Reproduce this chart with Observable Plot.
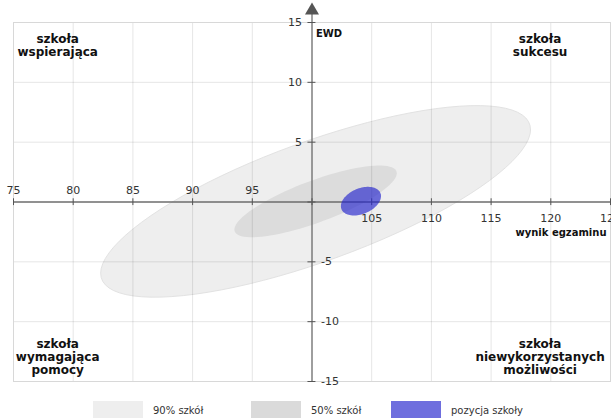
<!DOCTYPE html>
<html>
<head>
<meta charset="utf-8">
<script src="https://cdn.jsdelivr.net/npm/d3@7"></script>
<script src="https://cdn.jsdelivr.net/npm/@observablehq/plot@0.6"></script>
<style>
  body { margin: 0; background: #fff; font-family: "DejaVu Sans", sans-serif; }
  #chart svg { display: block; }
  #legend { position: relative; width: 611px; height: 20px; overflow: hidden; }
  .sw { position: absolute; top: 3px; width: 50px; height: 20px; }
  .lt { position: absolute; top: 8px; font-size: 10px; color: #333; line-height: 10px; }
</style>
</head>
<body>
<div id="chart"></div>
<div id="legend"></div>
<script>
// Ticks
const xTicks = [75, 80, 85, 90, 95, 100, 105, 110, 115, 120, 125];
const xLabelsAbove = [75, 80, 85, 90, 95];
const xLabelsBelow = [105, 110, 115, 120, 125];
const yTicks = [-15, -10, -5, 0, 5, 10, 15];
const yLabelsLeft = [15, 10, 5];
const yLabelsRight = [-5, -10, -15];

// Ellipses (series): center and shape factors
const ellipseNames = ["90% szkół", "50% szkół", "pozycja szkoły"];
const ellipseColors = ["#eeeeee", "#dcdcdc", "#2424cc"];
const ellipseStrokes = ["#e2e2e2", "none", "none"];
const ellipseOpacity = [1, 1, 0.65];
const centerX = [100.3, 100.3, 104.1];
const centerY = [0.05, 0.05, 0.07];
const spreadX = [18.0, 6.8, 1.68];
const coupling = [6.0, 2.35, 0.42];
const spreadY = [5.3, 1.86, 1.12];

// Quadrant labels
const quadLabels = ["szkoła\nwspierająca", "szkoła\nsukcesu", "szkoła\nwymagająca\npomocy", "szkoła\nniewykorzystanych\nmożliwości"];
const quadX = [78.7, 119.1, 78.7, 119.1];
const quadY = [13.1, 13.1, -12.97, -12.97];

function outline(k) {
  const pts = [];
  const n = 90;
  for (let i = 0; i < n; i++) {
    const t = (i / n) * 2 * Math.PI;
    pts.push({
      x: centerX[k] + spreadX[k] * Math.cos(t),
      y: centerY[k] + coupling[k] * Math.cos(t) + spreadY[k] * Math.sin(t)
    });
  }
  return pts;
}

const ellipseMarks = ellipseNames.map((name, k) =>
  Plot.line(outline(k), {x: "x", y: "y", fill: ellipseColors[k], fillOpacity: ellipseOpacity[k], stroke: ellipseStrokes[k], strokeWidth: 1, curve: "linear-closed"})
);

const quad = quadLabels.map((t, i) => ({t, x: quadX[i], y: quadY[i]}));

const chart = Plot.plot({
  width: 611,
  height: 398,
  marginLeft: 13,
  marginRight: 1,
  marginTop: 22,
  marginBottom: 17,
  x: {domain: [75, 125], axis: null},
  y: {domain: [-15, 15], axis: null},
  style: {fontFamily: "DejaVu Sans", fontSize: "11px", background: "#fff", overflow: "visible"},
  marks: [
    ellipseMarks[0],
    ellipseMarks[1],
    Plot.ruleX(xTicks, {x: d => d, y1: -15, y2: 15, stroke: "#000", strokeOpacity: 0.1}),
    Plot.ruleY(yTicks, {y: d => d, x1: 75, x2: 125, stroke: "#000", strokeOpacity: 0.1}),
    Plot.frame({stroke: "#d8d8d8"}),
    // axes
    Plot.ruleY([0], {x1: 75, x2: 125, stroke: "#707070", strokeWidth: 1.3}),
    Plot.ruleX([100], {y1: -15, y2: 16.4, stroke: "#707070", strokeWidth: 1.3}),
    Plot.dot([100], {x: d => d, y: 16.0, symbol: "triangle", r: 5.2, fill: "#555", stroke: "none"}),
    Plot.ruleX(xTicks, {x: d => d, y1: -0.3, y2: 0.27, stroke: "#555", strokeWidth: 1}),
    Plot.ruleY(yTicks, {y: d => d, x1: 99.66, x2: 100.33, stroke: "#555", strokeWidth: 1}),
    ellipseMarks[2],
    Plot.text(xLabelsAbove, {x: d => d, y: 0, dy: -12, text: d => String(d), fill: "#333", fontSize: 11}),
    Plot.text(xLabelsBelow, {x: d => d, y: 0, dy: 16, text: d => String(d), fill: "#333", fontSize: 11}),
    Plot.text(yLabelsLeft, {x: 100, y: d => d, dx: -10, text: d => String(d), textAnchor: "end", fill: "#333", fontSize: 11}),
    Plot.text(yLabelsRight, {x: 100, y: d => d, dx: 9, text: d => String(d), textAnchor: "start", fill: "#333", fontSize: 11}),
    Plot.text(["EWD"], {x: 100, y: 15, dx: 4, dy: 11, text: d => d, textAnchor: "start", fontWeight: "bold", fontSize: 10, fill: "#111"}),
    Plot.text(["wynik egzaminu"], {x: 125, y: 0, dx: -4, dy: 31, text: d => d, textAnchor: "end", fontWeight: "bold", fontSize: 10, fill: "#111"}),
    Plot.text(quad, {x: "x", y: "y", text: "t", fontWeight: "bold", fontSize: 12, lineHeight: 1.08, fill: "#111"})
  ]
});
document.getElementById("chart").appendChild(chart);

// Legend
const legendX = [93, 251, 391];
const legendSwatch = ["#eeeeee", "#dadada", "#6e6ede"];
const legend = document.getElementById("legend");
ellipseNames.forEach((name, i) => {
  const s = document.createElement("div");
  s.className = "sw";
  s.style.left = legendX[i] + "px";
  s.style.background = legendSwatch[i];
  legend.appendChild(s);
  const t = document.createElement("div");
  t.className = "lt";
  t.style.left = (legendX[i] + 60) + "px";
  t.textContent = name;
  legend.appendChild(t);
});
</script>
</body>
</html>
